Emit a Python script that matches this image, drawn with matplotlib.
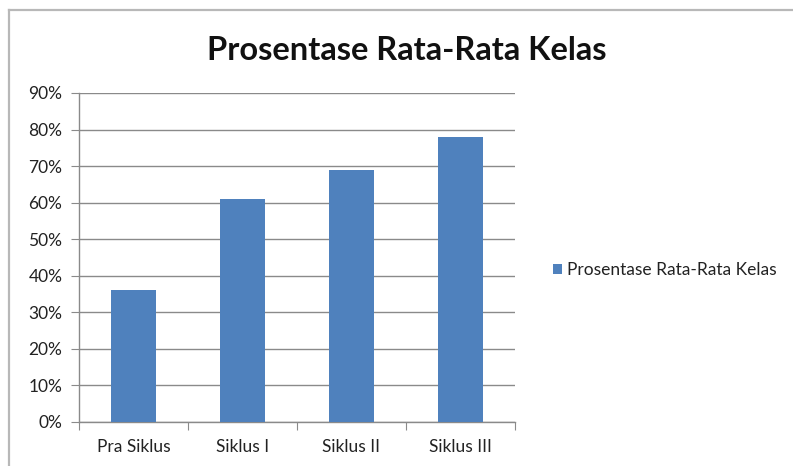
import matplotlib
matplotlib.use("Agg")
import matplotlib.pyplot as plt
from matplotlib.ticker import PercentFormatter
from matplotlib.lines import Line2D

categories = ["Pra Siklus", "Siklus I", "Siklus II", "Siklus III"]
values = [36, 61, 69, 78]
yticks = [0, 10, 20, 30, 40, 50, 60, 70, 80, 90]
series_name = "Prosentase Rata-Rata Kelas"
title = "Prosentase Rata-Rata Kelas"

plt.rcParams['font.family'] = ['Lato', 'DejaVu Sans']

W, H = 793, 466
fig = plt.figure(figsize=(W/100, H/100), dpi=100)
fig.patch.set_facecolor("white")

# outer chart frame (left and top visible)
fig.add_artist(Line2D([9/W, 9/W], [0, 1 - 10/H], transform=fig.transFigure, color="#b8b8b8", lw=1.6))
fig.add_artist(Line2D([9/W, 1], [1 - 10/H, 1 - 10/H], transform=fig.transFigure, color="#b8b8b8", lw=1.6))

left, right = 79, 515
top, bottom = 93, 422
ax = fig.add_axes([left/W, 1 - bottom/H, (right-left)/W, (bottom-top)/H])

x = list(range(len(categories)))
ax.bar(x, values, width=0.41, color="#4F81BD", label=series_name, zorder=3)
ax.set_xlim(-0.5, len(categories) - 0.5)
ax.set_ylim(0, 90)
ax.set_yticks(yticks)
ax.yaxis.set_major_formatter(PercentFormatter(decimals=0))
ax.grid(axis="y", color="#8a8a8a", lw=1.0, zorder=0)
ax.set_axisbelow(True)

for s in ["top", "right"]:
    ax.spines[s].set_visible(False)
for s in ["left", "bottom"]:
    ax.spines[s].set_color("#8a8a8a")
    ax.spines[s].set_linewidth(1.0)

ax.set_xticks([i - 0.5 for i in range(len(categories) + 1)], minor=False)
ax.set_xticklabels([])
ax.set_xticks(x, minor=True)
ax.set_xticklabels(categories, minor=True, fontsize=12.5, color="#222222")
ax.tick_params(axis="x", which="major", length=6, color="#8a8a8a", direction="out")
ax.tick_params(axis="x", which="minor", length=0, pad=12)
ax.tick_params(axis="y", length=6, color="#8a8a8a", labelsize=12.5, labelcolor="#222222", pad=6)

fig.text((205+608)/2/W, 1 - 50/H, title, ha="center", va="center", fontsize=23.5, fontweight="bold", color="#111111")

leg = fig.legend(loc="center left", bbox_to_anchor=(537/W, 1 - 270/H), frameon=False,
                 fontsize=12.5, handlelength=0.55, handleheight=0.55, handletextpad=0.3)
for t in leg.get_texts():
    t.set_color("#222222")

fig.savefig("out.png", dpi=100)
